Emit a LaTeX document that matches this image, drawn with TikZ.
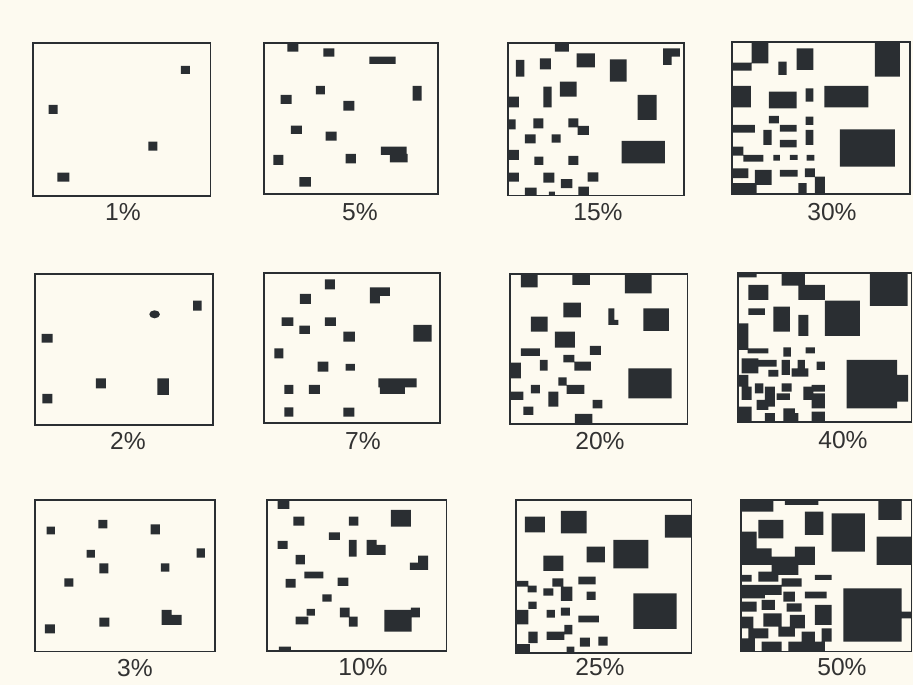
\documentclass[tikz,border=0pt]{standalone}
\usepackage{fontspec}
\setmainfont{Liberation Sans}
\definecolor{paper}{RGB}{253,250,240}
\definecolor{ink}{RGB}{42,46,50}
\definecolor{pen}{RGB}{50,50,50}
\begin{document}
\begin{tikzpicture}[x=0.03cm,y=-0.03cm,
  frame/.style={draw=ink,line width=1.5pt},
  blk/.style={fill=ink},
  lab/.style={text=pen,font=\fontsize{21}{24}\selectfont,inner sep=0pt}]
\fill[paper] (0,0) rectangle (913,685);
\useasboundingbox (0,0) rectangle (913,685);

% row 1
\begin{scope}[shift={(20,30)},x=0.01cm,y=-0.01cm]
\draw[frame] (38,40) rectangle (572,498);
\fill[blk] (483,108) rectangle (510,132) (86,225) rectangle (113,252)
  (385,335) rectangle (412,362) (112,428) rectangle (148,455);
\end{scope}
\begin{scope}[shift={(255,30)},x=0.01cm,y=-0.01cm]
\draw[frame] (28,38) rectangle (550,493);
\fill[blk] (97,40) rectangle (130,65) (205,55) rectangle (238,80)
  (343,80) rectangle (422,102) (473,168) rectangle (500,212)
  (183,168) rectangle (210,193) (77,195) rectangle (110,222)
  (265,213) rectangle (298,242) (108,287) rectangle (141,312)
  (212,305) rectangle (245,332) (378,350) rectangle (455,375)
  (405,372) rectangle (458,397) (55,375) rectangle (85,405)
  (272,372) rectangle (303,400) (133,442) rectangle (168,470);
\end{scope}
\begin{scope}[shift={(495,30)},x=0.01cm,y=-0.01cm]
\draw[frame] (38,38) rectangle (567,497);
\fill[blk] (180,38) rectangle (222,65) (505,55) rectangle (555,80)
  (505,78) rectangle (530,105) (63,90) rectangle (88,140)
  (135,85) rectangle (168,118) (245,70) rectangle (300,112)
  (345,88) rectangle (395,155) (195,155) rectangle (245,200)
  (145,170) rectangle (170,232) (38,200) rectangle (72,232)
  (428,195) rectangle (485,270) (38,268) rectangle (62,298)
  (115,265) rectangle (145,295) (220,265) rectangle (250,292)
  (248,288) rectangle (282,315) (90,313) rectangle (122,340)
  (170,313) rectangle (197,338) (380,333) rectangle (510,400)
  (38,360) rectangle (72,390) (118,380) rectangle (145,405)
  (220,378) rectangle (250,405) (38,428) rectangle (72,455)
  (145,428) rectangle (178,458) (278,427) rectangle (310,455)
  (198,448) rectangle (232,475) (90,473) rectangle (125,497)
  (162,485) rectangle (180,497) (250,470) rectangle (282,497);
\end{scope}
\begin{scope}[shift={(715,30)},x=0.01cm,y=-0.01cm]
\draw[frame] (52,35) rectangle (585,492);
\fill[blk] (110,35) rectangle (160,100) (52,98) rectangle (110,122)
  (245,55) rectangle (295,120) (190,95) rectangle (215,135)
  (480,35) rectangle (555,140) (52,168) rectangle (108,232)
  (162,185) rectangle (245,235) (272,175) rectangle (295,215)
  (328,168) rectangle (460,232) (162,258) rectangle (192,280)
  (272,260) rectangle (295,285) (52,285) rectangle (120,308)
  (195,285) rectangle (245,305) (145,300) rectangle (170,345)
  (272,300) rectangle (295,345) (195,330) rectangle (245,352)
  (375,298) rectangle (540,410) (52,350) rectangle (85,377)
  (85,375) rectangle (145,395) (175,375) rectangle (195,392)
  (225,375) rectangle (248,390) (275,375) rectangle (298,392)
  (52,415) rectangle (100,445) (120,420) rectangle (170,465)
  (195,420) rectangle (248,440) (270,415) rectangle (300,442)
  (300,440) rectangle (330,492) (52,460) rectangle (125,492)
  (250,460) rectangle (275,492);
\end{scope}

% row 2
\begin{scope}[shift={(20,260)},x=0.01cm,y=-0.01cm]
\draw[frame] (45,42) rectangle (580,495);
\fill[blk] (520,122) rectangle (545,152) (65,222) rectangle (98,248)
  (228,355) rectangle (258,385) (412,355) rectangle (447,405)
  (67,402) rectangle (97,430);
\fill[blk] (404,163) ellipse (16 and 12);
\end{scope}
\begin{scope}[shift={(255,260)},x=0.01cm,y=-0.01cm]
\draw[frame] (28,40) rectangle (555,490);
\fill[blk] (210,58) rectangle (240,88) (345,82) rectangle (405,108)
  (345,106) rectangle (375,130) (135,102) rectangle (168,132)
  (80,172) rectangle (115,198) (210,172) rectangle (243,198)
  (133,197) rectangle (165,222) (265,215) rectangle (300,245)
  (475,195) rectangle (530,245) (58,265) rectangle (85,295)
  (188,305) rectangle (220,335) (272,312) rectangle (300,332)
  (370,355) rectangle (485,382) (375,380) rectangle (450,402)
  (88,375) rectangle (115,402) (162,375) rectangle (195,402)
  (88,442) rectangle (115,470) (265,443) rectangle (298,470);
\end{scope}
\begin{scope}[shift={(495,260)},x=0.01cm,y=-0.01cm]
\draw[frame] (45,42) rectangle (578,492);
\fill[blk] (78,42) rectangle (128,82) (232,42) rectangle (285,75)
  (390,42) rectangle (470,100) (205,128) rectangle (258,172)
  (340,145) rectangle (358,192) (340,180) rectangle (370,195)
  (445,145) rectangle (522,213) (108,170) rectangle (158,215)
  (180,215) rectangle (240,263) (78,265) rectangle (135,288)
  (285,258) rectangle (318,285) (45,308) rectangle (78,355)
  (135,300) rectangle (158,332) (205,285) rectangle (238,307)
  (238,305) rectangle (288,332) (400,325) rectangle (530,415)
  (190,352) rectangle (215,377) (215,375) rectangle (268,402)
  (108,375) rectangle (135,400) (45,395) rectangle (85,420)
  (160,395) rectangle (190,440) (293,420) rectangle (322,445)
  (85,440) rectangle (115,465) (240,462) rectangle (292,492);
\end{scope}
\begin{scope}[shift={(715,260)},x=0.01cm,y=-0.01cm]
\draw[frame] (68,40) rectangle (590,487);
\fill[blk] (68,40) rectangle (125,52) (100,75) rectangle (160,120)
  (200,40) rectangle (270,77) (250,75) rectangle (330,120)
  (465,40) rectangle (578,138) (100,145) rectangle (150,165)
  (175,140) rectangle (225,215) (250,165) rectangle (280,228)
  (330,122) rectangle (435,228) (68,190) rectangle (100,270)
  (98,265) rectangle (160,280) (205,262) rectangle (228,290)
  (272,262) rectangle (300,280) (80,295) rectangle (130,340)
  (128,300) rectangle (185,320) (200,300) rectangle (225,345)
  (160,330) rectangle (190,350) (248,300) rectangle (270,330)
  (230,325) rectangle (280,350) (305,305) rectangle (330,330)
  (395,300) rectangle (547,445) (545,345) rectangle (580,425)
  (68,345) rectangle (100,380) (120,370) rectangle (145,400)
  (80,380) rectangle (110,420) (150,380) rectangle (180,440)
  (200,370) rectangle (230,395) (185,400) rectangle (225,420)
  (265,380) rectangle (295,420) (290,375) rectangle (330,395)
  (290,400) rectangle (330,445) (68,440) rectangle (110,487)
  (125,420) rectangle (160,450) (150,460) rectangle (180,487)
  (205,445) rectangle (240,487) (290,455) rectangle (330,487)
  (220,460) rectangle (250,487);
\end{scope}

% row 3
\begin{scope}[shift={(20,485)},x=0.01cm,y=-0.01cm]
\draw[frame] (45,45) rectangle (585,500);
\fill[blk] (80,125) rectangle (105,148) (235,105) rectangle (262,130)
  (392,118) rectangle (420,148) (200,195) rectangle (225,218)
  (530,190) rectangle (555,218) (238,235) rectangle (265,265)
  (423,235) rectangle (448,260) (133,280) rectangle (160,305)
  (425,375) rectangle (455,420) (453,390) rectangle (485,420)
  (238,398) rectangle (268,425) (75,418) rectangle (105,445);
\end{scope}
\begin{scope}[shift={(255,485)},x=0.01cm,y=-0.01cm]
\draw[frame] (35,45) rectangle (575,498);
\fill[blk] (68,48) rectangle (103,72) (115,95) rectangle (148,122)
  (282,95) rectangle (310,122) (408,75) rectangle (468,125)
  (222,142) rectangle (255,165) (68,168) rectangle (98,192)
  (282,165) rectangle (305,215) (335,165) rectangle (365,210)
  (363,180) rectangle (392,210) (490,212) rectangle (520,255)
  (465,233) rectangle (492,255) (122,210) rectangle (150,238)
  (148,260) rectangle (205,280) (92,282) rectangle (122,308)
  (248,278) rectangle (280,303) (202,328) rectangle (230,350)
  (155,372) rectangle (180,392) (122,395) rectangle (160,418)
  (255,368) rectangle (284,397) (282,395) rectangle (308,425)
  (388,375) rectangle (470,440) (468,368) rectangle (495,397)
  (72,485) rectangle (108,498);
\end{scope}
\begin{scope}[shift={(495,485)},x=0.01cm,y=-0.01cm]
\draw[frame] (62,45) rectangle (590,505);
\fill[blk] (90,95) rectangle (150,142) (198,78) rectangle (275,145)
  (510,90) rectangle (588,158) (275,185) rectangle (330,232)
  (355,165) rectangle (460,250) (145,212) rectangle (205,258)
  (62,288) rectangle (100,305) (98,302) rectangle (125,322)
  (172,280) rectangle (205,305) (145,310) rectangle (175,332)
  (198,305) rectangle (232,348) (250,275) rectangle (302,298)
  (275,320) rectangle (302,345) (415,325) rectangle (545,432)
  (100,350) rectangle (125,372) (62,375) rectangle (100,418)
  (155,375) rectangle (180,398) (198,368) rectangle (225,392)
  (250,392) rectangle (312,412) (100,440) rectangle (128,475)
  (155,440) rectangle (208,465) (208,420) rectangle (232,448)
  (255,458) rectangle (285,485) (310,455) rectangle (338,482)
  (62,478) rectangle (105,505) (215,485) rectangle (238,505);
\end{scope}
\begin{scope}[shift={(715,485)},x=0.01cm,y=-0.01cm]
\draw[frame] (78,45) rectangle (590,500);
\fill[blk] (78,48) rectangle (175,80) (210,45) rectangle (310,60)
  (490,48) rectangle (560,105) (130,105) rectangle (205,160)
  (270,80) rectangle (325,150) (350,85) rectangle (450,200)
  (485,155) rectangle (590,240) (78,140) rectangle (125,200)
  (78,190) rectangle (170,240) (240,185) rectangle (300,240)
  (170,215) rectangle (250,270) (78,270) rectangle (110,290)
  (130,260) rectangle (190,290) (200,280) rectangle (260,305)
  (300,270) rectangle (350,285) (78,300) rectangle (150,340)
  (150,300) rectangle (200,330) (205,320) rectangle (240,350)
  (270,320) rectangle (335,340) (385,310) rectangle (560,470)
  (558,380) rectangle (590,400) (78,350) rectangle (125,380)
  (140,345) rectangle (180,375) (215,355) rectangle (260,380)
  (300,360) rectangle (350,420) (78,395) rectangle (115,430)
  (145,385) rectangle (200,425) (225,390) rectangle (270,430)
  (100,430) rectangle (160,460) (190,425) rectangle (240,455)
  (260,440) rectangle (300,470) (78,460) rectangle (120,500)
  (140,470) rectangle (200,500) (220,470) rectangle (330,500)
  (320,430) rectangle (350,470);
\end{scope}

% labels
\node[lab] (p1) at (123,212) {1\%};
\node[lab] (p5) at (360,212) {5\%};
\node[lab] (p15) at (598,212) {15\%};
\node[lab] (p30) at (832,212) {30\%};
\node[lab] (p2) at (128,441) {2\%};
\node[lab] (p7) at (363,441) {7\%};
\node[lab] (p20) at (600,441) {20\%};
\node[lab] (p40) at (843,440) {40\%};
\node[lab] (p3) at (135,668) {3\%};
\node[lab] (p10) at (363,667) {10\%};
\node[lab] (p25) at (600,667) {25\%};
\node[lab] (p50) at (842,667) {50\%};
\end{tikzpicture}
\end{document}
